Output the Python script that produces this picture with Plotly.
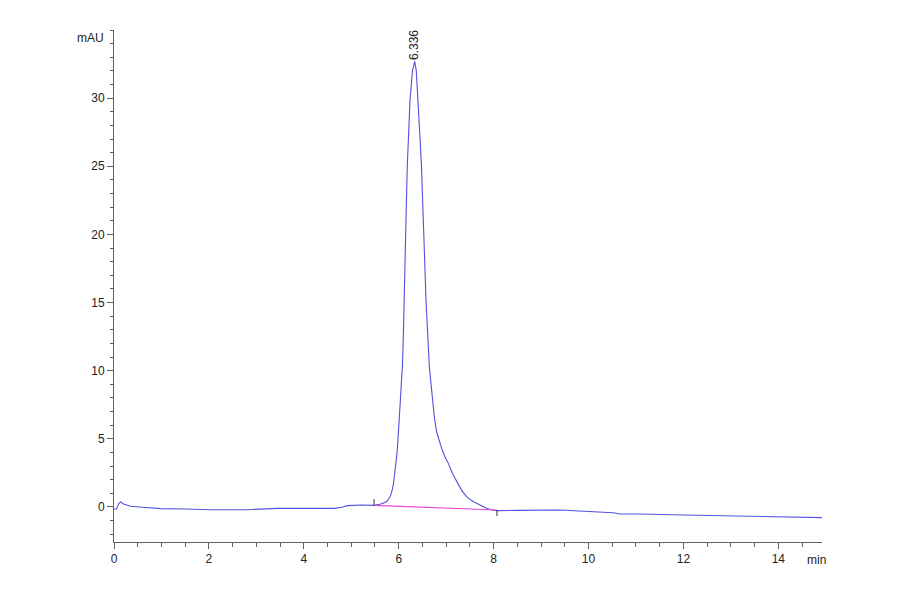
import plotly.graph_objects as go

# ---- data ----
time_min = [0.00, 0.05, 0.10, 0.14, 0.20, 0.35, 0.60, 0.98, 1.50, 2.04, 2.81, 3.10, 3.44,
            4.00, 4.64, 4.80, 4.92, 5.20, 5.48, 5.60, 5.67, 5.75, 5.82, 5.86, 5.89, 5.94,
            5.97, 6.014, 6.05, 6.077, 6.097, 6.11, 6.13, 6.147, 6.18, 6.217, 6.238, 6.29,
            6.32, 6.336, 6.37, 6.41, 6.45, 6.48, 6.52, 6.575, 6.645, 6.70, 6.75, 6.80, 6.86,
            6.905, 6.97, 7.045, 7.14, 7.235, 7.33, 7.43, 7.54, 7.64, 7.75, 7.85, 7.95, 8.06,
            8.50, 9.00, 9.40, 9.80, 10.20, 10.52, 10.66, 11.08, 12.00, 13.40, 14.30, 14.94]
signal_mau = [-0.15, -0.15, 0.25, 0.37, 0.22, 0.05, -0.02, -0.12, -0.15, -0.20, -0.20, -0.15, -0.10,
              -0.10, -0.10, -0.02, 0.10, 0.15, 0.12, 0.20, 0.27, 0.42, 0.76, 1.20, 1.74, 3.20,
              4.18, 6.63, 8.50, 10.30, 12.50, 15.19, 17.20, 20.08, 24.97, 27.60, 29.86, 32.00,
              32.55, 32.70, 32.00, 29.86, 27.00, 24.97, 20.08, 15.19, 10.30, 8.20, 6.60, 5.50, 4.75,
              4.30, 3.70, 3.20, 2.40, 1.74, 1.20, 0.76, 0.45, 0.27, 0.05, -0.10, -0.20, -0.27,
              -0.25, -0.23, -0.22, -0.30, -0.36, -0.42, -0.51, -0.51, -0.59, -0.66, -0.73, -0.78]

peak_rt = [6.336]
peak_height = [32.7]
peak_labels = ["6.336"]

baseline_t = [5.48, 8.07]
baseline_v = [0.12, -0.22]

x_ticks = [0, 2, 4, 6, 8, 10, 12, 14]
y_ticks = [0, 5, 10, 15, 20, 25, 30]

TRACE_COLOR = "rgb(82,82,222)"
BASE_COLOR = "rgb(230,70,220)"
AXIS_COLOR = "#606060"
FONT = "Liberation Sans, Arial, sans-serif"

fig = go.Figure()
fig.add_trace(go.Scatter(x=time_min, y=signal_mau, mode="lines",
                         line=dict(color=TRACE_COLOR, width=1.1), hoverinfo="skip",
                         showlegend=False))
fig.add_trace(go.Scatter(x=baseline_t, y=baseline_v, mode="lines",
                         line=dict(color=BASE_COLOR, width=1.1), hoverinfo="skip",
                         showlegend=False))

# integration event marks
for t, v, d in zip(baseline_t, baseline_v, [0.45, -0.45]):
    fig.add_shape(type="line", x0=t, x1=t, y0=v, y1=v + d, xref="x", yref="y",
                  line=dict(color="#333333", width=1))

for rt, h, lab in zip(peak_rt, peak_height, peak_labels):
    fig.add_annotation(x=rt, y=h, text=lab, textangle=-90, showarrow=False,
                       xanchor="center", yanchor="bottom", yshift=-1,
                       font=dict(family=FONT, size=12, color="#222222"))

fig.add_annotation(xref="paper", yref="paper", x=-0.012, y=0.984, text="mAU",
                   showarrow=False, xanchor="right", yanchor="middle",
                   font=dict(family=FONT, size=12, color="#222222"))
fig.add_annotation(xref="paper", yref="paper", x=0.992, y=-0.035, text="min",
                   showarrow=False, xanchor="center", yanchor="middle",
                   font=dict(family=FONT, size=12, color="#222222"))

fig.update_layout(
    width=900, height=594, autosize=False,
    margin=dict(l=106, r=86, t=22, b=60),
    paper_bgcolor="white", plot_bgcolor="white",
    font=dict(family=FONT, size=12, color="#222222"),
    xaxis=dict(range=[0, 14.92], tickvals=x_ticks, ticks="outside", ticklen=6,
               tickcolor=AXIS_COLOR, showline=True, linecolor=AXIS_COLOR, linewidth=1,
               showgrid=False, zeroline=False,
               minor=dict(dtick=0.5, tick0=0, ticks="outside", ticklen=4, tickcolor=AXIS_COLOR,
                          showgrid=False),
               tickfont=dict(family=FONT, size=12, color="#222222")),
    yaxis=dict(range=[-2.57, 35], tickvals=y_ticks, ticks="outside", ticklen=6,
               tickcolor=AXIS_COLOR, showline=True, linecolor=AXIS_COLOR, linewidth=1,
               showgrid=False, zeroline=False,
               minor=dict(dtick=1, tick0=0, ticks="outside", ticklen=3, tickcolor=AXIS_COLOR,
                          showgrid=False),
               tickfont=dict(family=FONT, size=12, color="#222222")),
)

fig.write_html("out.html")
